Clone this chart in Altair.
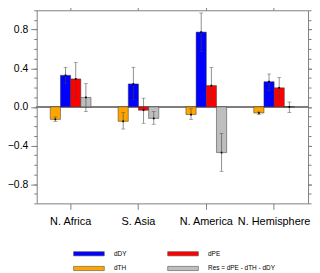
import altair as alt
import pandas as pd

regions = ["N. Africa", "S. Asia", "N. America", "N. Hemisphere"]
variables = ["dTH", "dDY", "dPE", "Res = dPE - dTH - dDY"]
legend_order = ["dDY", "dPE", "dTH", "Res = dPE - dTH - dDY"]
colors = {"dDY": "#0000ff", "dPE": "#ff0000", "dTH": "#ffa500", "Res = dPE - dTH - dDY": "#bebebe"}

# values per region, order: dTH, dDY, dPE, Res
values = {
    "N. Africa":     [-0.13, 0.326, 0.289, 0.097],
    "S. Asia":       [-0.15, 0.237, -0.035, -0.12],
    "N. America":    [-0.08, 0.774, 0.22, -0.474],
    "N. Hemisphere": [-0.064, 0.26, 0.197, 0.0],
}
err_low = {
    "N. Africa":     [-0.15, 0.245, 0.10, -0.05],
    "S. Asia":       [-0.23, 0.075, -0.17, -0.18],
    "N. America":    [-0.13, 0.572, 0.074, -0.668],
    "N. Hemisphere": [-0.08, 0.17, 0.084, -0.06],
}
err_high = {
    "N. Africa":     [-0.105, 0.41, 0.46, 0.24],
    "S. Asia":       [-0.06, 0.41, 0.09, -0.05],
    "N. America":    [-0.02, 0.972, 0.408, -0.275],
    "N. Hemisphere": [-0.053, 0.34, 0.306, 0.05],
}

rows = []
for r in regions:
    for i, v in enumerate(variables):
        rows.append({"region": r, "var": v, "value": values[r][i],
                     "lo": err_low[r][i], "hi": err_high[r][i]})
df = pd.DataFrame(rows)

frame = "#7f7f7f"
ydom = [-1.0, 1.0]
major = [-0.8, -0.4, 0.0, 0.4, 0.8]
minor = [round(-1.0 + 0.1 * k, 1) for k in range(21)]

xsc = alt.Scale(domain=regions, paddingInner=0.4, paddingOuter=0.2)
xoff = alt.XOffset("var:N", sort=variables,
                   scale=alt.Scale(domain=variables, paddingInner=0, paddingOuter=0))
ysc = alt.Scale(domain=ydom, nice=False, zero=False)

def xaxis(orient, labels):
    return alt.Axis(orient=orient, labels=labels, title=None, domain=False, grid=False,
                    tickSize=6, tickColor=frame, tickWidth=1, labelAngle=0,
                    labelFontSize=11, labelColor="black", labelFont="Liberation Sans",
                    labelPadding=6)

def yaxis(orient, vals, size, labels):
    return alt.Axis(orient=orient, values=vals, labels=labels, title=None, domain=False,
                    grid=False, tickSize=size, tickColor=frame, tickWidth=1,
                    format=".1f", labelFontSize=10.5, labelColor="black",
                    labelFont="Liberation Sans", labelPadding=3)

base = alt.Chart(df)

zero = base.mark_rule(color=frame, strokeWidth=1).encode(
    y=alt.Y("z:Q", scale=ysc, axis=yaxis("left", minor, 3, False)),
).transform_calculate(z="0")

bars = base.mark_bar(stroke="#333333", strokeWidth=0.5).encode(
    x=alt.X("region:N", sort=regions, scale=xsc, axis=xaxis("bottom", True)),
    xOffset=xoff,
    y=alt.Y("value:Q", scale=ysc, axis=yaxis("left", major, 6, True)),
    color=alt.Color("var:N", scale=alt.Scale(domain=legend_order,
                    range=[colors[k] for k in legend_order]),
                    legend=alt.Legend(title=None, orient="none", legendX=49.5, legendY=242.5,
                                      direction="horizontal",
                                      columns=2, columnPadding=39, rowPadding=7,
                                      symbolType="M-6.2,-0.85L6.2,-0.85L6.2,0.85L-6.2,0.85Z",
                                      symbolSize=25, symbolStrokeColor="#555555",
                                      symbolStrokeWidth=0.6, labelFontSize=6.5,
                                      labelFont="Liberation Sans", labelOffset=22,
                                      labelColor="black")),
)

errs = base.mark_rule(color="#444444", strokeWidth=0.6).encode(
    x=alt.X("region:N", sort=regions, scale=xsc, axis=xaxis("top", False)),
    xOffset=xoff,
    y=alt.Y("lo:Q", scale=ysc, axis=yaxis("right", major, 6, False)),
    y2="hi:Q",
)

cap_hi = base.mark_tick(color="#444444", thickness=0.6, size=4, orient="horizontal").encode(
    x=alt.X("region:N", sort=regions, scale=xsc, axis=None),
    xOffset=xoff,
    y=alt.Y("hi:Q", scale=ysc, axis=yaxis("right", minor, 3, False)),
)
cap_lo = base.mark_tick(color="#444444", thickness=0.6, size=4, orient="horizontal").encode(
    x=alt.X("region:N", sort=regions, scale=xsc, axis=None),
    xOffset=xoff,
    y=alt.Y("lo:Q", scale=ysc, axis=None),
)
dots = base.mark_square(color="black", size=3, opacity=1).encode(
    x=alt.X("region:N", sort=regions, scale=xsc, axis=None),
    xOffset=xoff,
    y=alt.Y("value:Q", scale=ysc, axis=None),
)

chart = alt.layer(zero, bars, errs, cap_hi, cap_lo, dots).resolve_axis(
    x="independent", y="independent"
).properties(
    width=274, height=195,
    autosize=alt.AutoSizeParams(type="none"),
    padding={"left": 29, "top": 1, "right": 4, "bottom": 69},
).configure_view(stroke=frame, strokeWidth=1)

chart.save("out.html", embed_options={"renderer": "svg", "actions": False})
